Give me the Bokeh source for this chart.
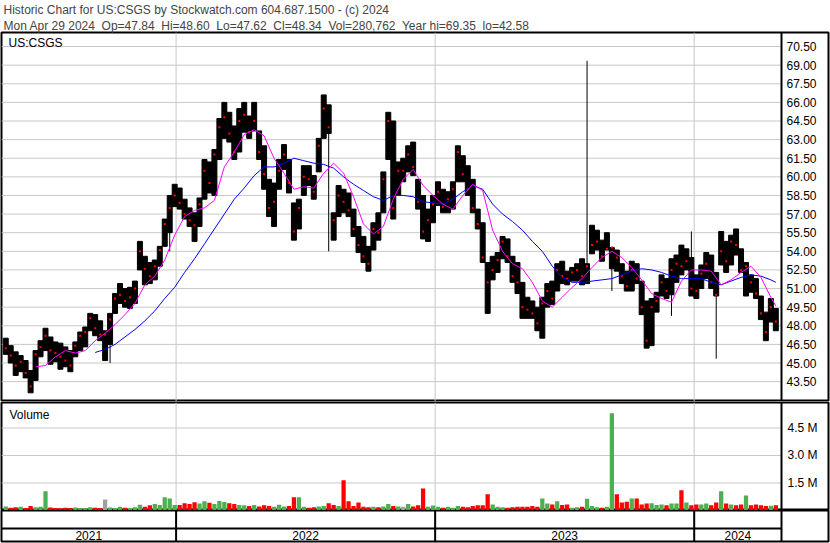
import pandas as pd
from bokeh.plotting import figure
from bokeh.models import Range1d, Span, Title, Label
from bokeh.layouts import column
from bokeh.embed import file_html
from bokeh.resources import INLINE
from bokeh.core.properties import value

# ---------------- data ----------------
header1 = "Historic Chart for US:CSGS by Stockwatch.com 604.687.1500 - (c) 2024"
header2 = ("Mon Apr 29 2024\u00a0 Op=47.84\u00a0 Hi=48.60\u00a0 Lo=47.62\u00a0 Cl=48.34\u00a0 "
           "Vol=280,762\u00a0 Year hi=69.35\u00a0 lo=42.58")
symbol = "US:CSGS"
last_week = "2024-04-25"
view_start = "2021-04-30"
view_end = "2024-05-03"
years = [2021, 2022, 2023, 2024]

highs = [47.0, 46.4, 45.9, 45.6, 45.2, 44.4, 46.0, 46.8, 47.8, 47.1,
         46.7, 46.6, 46.3, 46.0, 46.7, 47.5, 47.9, 49.0, 48.9, 48.4,
         47.6, 49.0, 50.6, 51.4, 51.0, 51.1, 51.6, 54.8, 53.6, 53.1,
         53.3, 54.4, 56.6, 58.5, 59.4, 59.1, 58.2, 57.5, 57.1, 58.3,
         61.4, 61.2, 62.2, 64.7, 66.0, 65.2, 64.1, 65.5, 66.0, 64.9,
         66.0, 63.7, 62.5, 59.8, 59.5, 61.4, 62.6, 61.4, 57.9, 58.2,
         60.9, 60.9, 60.1, 63.1, 66.6, 65.8, 57.1, 59.3, 59.0, 58.7,
         57.4, 56.0, 55.2, 54.4, 56.3, 57.1, 60.4, 65.2, 64.5, 61.2,
         61.5, 62.5, 62.8, 59.8, 58.5, 57.4, 58.5, 59.6, 59.0, 58.8,
         59.6, 62.5, 61.7, 60.9, 59.8, 57.4, 56.3, 53.1, 53.6, 53.9,
         55.2, 55.0, 53.6, 53.1, 51.5, 50.3, 50.0, 49.5, 50.3, 51.4,
         51.6, 53.0, 53.2, 52.4, 52.7, 53.0, 53.4, 53.0, 56.1, 55.7,
         54.9, 55.5, 54.3, 54.1, 53.0, 52.4, 53.2, 53.0, 51.6, 50.0,
         50.2, 50.7, 52.1, 51.8, 53.4, 53.7, 54.5, 54.2, 53.5, 52.1,
         52.9, 53.9, 53.7, 52.3, 55.6, 54.8, 55.3, 55.8, 54.2, 53.1,
         52.1, 51.8, 50.4, 49.1, 50.2, 49.4]
lows = [45.7, 45.0, 44.0, 44.3, 43.8, 42.6, 43.6, 45.5, 46.0, 44.9,
        45.1, 44.5, 44.7, 44.3, 45.5, 46.0, 46.3, 47.6, 47.2, 46.8,
        45.2, 46.5, 49.0, 49.8, 49.5, 49.4, 49.8, 52.5, 51.3, 51.4,
        51.7, 52.8, 54.4, 55.5, 57.6, 57.4, 56.6, 56.0, 54.8, 56.0,
        58.2, 58.7, 58.5, 61.4, 63.1, 62.8, 61.4, 62.0, 63.6, 63.1,
        63.7, 61.4, 59.0, 56.8, 56.0, 59.0, 60.6, 58.7, 54.9, 55.8,
        58.5, 59.3, 58.2, 60.4, 63.1, 63.5, 54.9, 56.8, 57.1, 56.8,
        55.2, 53.9, 53.1, 52.4, 54.1, 54.9, 57.1, 61.4, 56.6, 58.5,
        59.6, 60.4, 60.1, 57.4, 55.0, 54.8, 56.3, 57.7, 57.1, 57.1,
        57.4, 59.6, 59.6, 58.5, 57.1, 55.8, 53.1, 49.0, 51.7, 52.3,
        53.4, 53.1, 51.5, 50.6, 48.6, 48.6, 48.6, 47.6, 47.0, 49.5,
        49.7, 50.8, 51.4, 51.3, 51.6, 51.6, 51.3, 51.4, 53.8, 54.1,
        53.2, 54.1, 52.6, 52.4, 51.4, 50.8, 50.8, 51.4, 48.9, 46.2,
        46.4, 49.1, 50.4, 50.2, 50.5, 51.5, 52.1, 52.5, 50.4, 50.2,
        51.0, 51.8, 51.0, 50.4, 52.9, 52.3, 52.9, 53.7, 52.3, 50.4,
        50.7, 50.2, 48.5, 46.8, 48.3, 47.6]
closes = [46.2, 45.6, 44.8, 45.1, 44.2, 43.1, 45.7, 46.3, 47.2, 46.0,
          45.8, 45.5, 45.2, 44.8, 46.4, 47.2, 47.5, 48.6, 47.8, 47.3,
          47.3, 48.5, 50.2, 50.5, 50.0, 50.3, 51.0, 54.0, 52.6, 52.0,
          52.8, 54.1, 56.2, 57.5, 58.5, 57.9, 57.0, 56.5, 56.1, 57.8,
          60.5, 59.5, 61.8, 64.0, 64.8, 63.5, 62.0, 64.5, 65.0, 63.6,
          64.5, 62.0, 60.2, 57.5, 58.0, 60.5, 61.8, 59.5, 55.6, 57.5,
          60.0, 59.8, 58.8, 62.5, 65.5, 64.0, 56.5, 58.5, 58.0, 57.3,
          55.8, 54.5, 53.6, 53.0, 55.8, 55.5, 59.8, 64.5, 57.5, 60.5,
          60.5, 61.8, 60.8, 58.0, 55.6, 56.5, 57.8, 58.8, 57.6, 58.2,
          59.0, 62.0, 60.2, 59.0, 57.5, 56.2, 53.5, 51.5, 52.5, 53.3,
          54.8, 53.6, 52.0, 51.5, 49.5, 49.3, 49.0, 48.2, 49.8, 50.8,
          50.2, 52.5, 52.0, 51.8, 52.3, 52.5, 52.0, 52.8, 54.5, 54.8,
          53.6, 54.2, 54.3, 53.5, 52.0, 51.2, 52.5, 51.8, 49.5, 46.8,
          49.5, 50.0, 51.5, 50.8, 52.5, 53.0, 52.8, 53.2, 51.0, 50.8,
          52.2, 53.0, 51.5, 50.5, 54.0, 53.2, 54.8, 54.5, 52.5, 52.8,
          51.5, 50.6, 49.0, 47.5, 49.5, 48.34]
# single-day extremes (week index, price)
spike_idx = [21, 33, 65, 117, 122, 134, 138, 143]
spike_val = [45.0, 54.0, 54.0, 69.35, 50.8, 48.8, 55.6, 45.35]

volume_m = [0.22, 0.15, 0.18, 0.20, 0.14, 0.25, 0.18, 0.20, 1.05, 0.16,
            0.14, 0.12, 0.15, 0.13, 0.16, 0.12, 0.14, 0.18, 0.15, 0.13,
            0.60, 0.16, 0.14, 0.20, 0.15, 0.13, 0.18, 0.32, 0.20, 0.28,
            0.35, 0.30, 0.72, 0.66, 0.30, 0.30, 0.40, 0.35, 0.45, 0.38,
            0.50, 0.42, 0.36, 0.52, 0.46, 0.40, 0.35, 0.30, 0.28, 0.25,
            0.30, 0.22, 0.28, 0.25, 0.20, 0.32, 0.22, 0.25, 0.72, 0.72,
            0.20, 0.15, 0.18, 0.22, 0.25, 0.40, 0.30, 0.25, 1.65, 0.50,
            0.25, 0.43, 0.20, 0.18, 0.20, 0.18, 0.22, 0.35, 0.25, 0.22,
            0.20, 0.36, 0.22, 0.28, 1.20, 0.20, 0.27, 0.20, 0.15, 0.20,
            0.15, 0.24, 0.20, 0.18, 0.24, 0.28, 0.28, 0.88, 0.33, 0.20,
            0.18, 0.15, 0.18, 0.20, 0.21, 0.20, 0.24, 0.20, 0.66, 0.38,
            0.33, 0.50, 0.30, 0.33, 0.15, 0.18, 0.20, 0.64, 0.25, 0.18,
            0.15, 0.20, 5.30, 0.88, 0.43, 0.48, 0.66, 0.66, 0.33, 0.38,
            0.40, 0.30, 0.33, 0.28, 0.38, 0.38, 1.10, 0.43, 0.28, 0.33,
            0.33, 0.38, 0.28, 0.43, 1.05, 0.38, 0.33, 0.28, 0.33, 0.82,
            0.28, 0.33, 0.28, 0.24, 0.26, 0.28]

fast_idx = list(range(6, 155, 2)) + [155]
fast_ma = [44.7, 44.8, 45.5, 46.0, 45.8, 46.0, 46.8, 47.4, 48.1, 48.9,
           49.8, 51.3, 52.0, 53.3, 55.3, 56.8, 57.3, 57.5, 58.1, 60.8,
           62.0, 63.4, 63.8, 63.3, 61.5, 60.3, 59.0, 59.2, 59.1, 60.3,
           61.1, 60.3, 58.4, 56.2, 55.4, 56.0, 58.2, 59.8, 60.6, 59.3,
           58.5, 57.8, 57.4, 58.5, 59.4, 58.9, 55.7, 54.0, 53.0, 52.6,
           51.5, 50.0, 49.5, 50.3, 51.1, 51.8, 52.7, 53.5, 54.0, 53.5,
           52.7, 51.7, 50.6, 50.2, 49.9, 51.6, 52.5, 52.5, 52.4, 51.3,
           51.7, 52.3, 52.8, 51.9, 50.3, 49.6]
slow_idx = list(range(18, 155, 2)) + [155]
slow_ma = [45.85, 46.1, 46.5, 47.1, 47.7, 48.4, 49.2, 50.2, 51.1, 52.3,
           53.4, 54.6, 55.8, 57.0, 58.2, 59.1, 60.1, 60.8, 60.8, 61.1,
           61.5, 61.3, 61.1, 61.0, 60.7, 60.0, 59.4, 58.9, 58.4, 58.1,
           58.5, 58.5, 58.4, 58.0, 57.9, 57.8, 58.2, 58.8, 59.3, 59.0,
           57.8, 57.0, 56.4, 55.7, 54.8, 54.0, 52.8, 51.9, 51.5, 51.5,
           51.6, 51.7, 51.8, 52.1, 52.4, 52.6, 52.5, 52.3, 52.0, 51.8,
           51.8, 51.8, 51.5, 51.3, 51.6, 51.9, 52.1, 52.0, 51.7, 51.5]

price_ticks = [43.5, 45.0, 46.5, 48.0, 49.5, 51.0, 52.5, 54.0, 55.5, 57.0,
               58.5, 60.0, 61.5, 63.0, 64.5, 66.0, 67.5, 69.0, 70.5]
vol_ticks_m = [1.5, 3.0, 4.5]

# ---------------- helpers ----------------
FONT = value("Liberation Sans")
DAY = 86400000.0
GRID = "#c8c8c8"
GREEN = "#4caf50"
RED = "#ff0000"


def ms(ts):
    return pd.Timestamp(ts).value / 1e6


n = len(highs)
dates = pd.date_range(end=last_week, periods=n, freq="7D")
xs = [ms(d) for d in dates]
x0, x1 = ms(view_start), ms(view_end)

W = 830
DATA_W = 780
LABEL_W = 47
x_end = x1 + (x1 - x0) * LABEL_W / DATA_W
xr = Range1d(x0, x_end)
bar_w = 7.0 * DAY
vol_w = 6.0 * DAY
bounds = [ms(f"{y}-01-01") for y in years[1:]]


def make_fig(height, yr, top=0, bottom=0):
    p = figure(width=W, height=height, x_range=xr, y_range=yr,
               output_backend="svg", toolbar_location=None,
               x_axis_location=None, y_axis_location=None,
               min_border_left=1, min_border_right=2,
               min_border_top=top, min_border_bottom=bottom)
    p.grid.visible = False
    p.outline_line_color = "black"
    p.outline_line_width = 2
    p.background_fill_color = "white"
    p.border_fill_color = "white"
    return p


# ---------------- price panel ----------------
pr = Range1d(41.9, 71.63)
pp = make_fig(401, pr, top=0, bottom=0)
pp.add_layout(Title(text=header2, text_font="Liberation Sans", text_font_size="12px",
                    text_font_style="normal", align="left", offset=2, standoff=0), "above")
pp.add_layout(Title(text=header1, text_font="Liberation Sans", text_font_size="12px",
                    text_font_style="normal", align="left", offset=2, standoff=0), "above")

for b in bounds:
    pp.add_layout(Span(location=b, dimension="height", line_color=GRID, line_width=1, level="underlay"))
pp.segment(x0=[x0] * len(price_ticks), x1=[x1] * len(price_ticks), y0=price_ticks, y1=price_ticks,
           line_color=GRID, line_width=1)
pp.segment(x0=[xs[i] for i in spike_idx], x1=[xs[i] for i in spike_idx],
           y0=[closes[i] for i in spike_idx], y1=spike_val, line_color="black", line_width=1)
pp.vbar(x=xs, top=highs, bottom=lows, width=bar_w, fill_color="black", line_color="black", line_width=1)
pp.scatter(x=xs, y=closes, marker="square", size=2, fill_color=RED, line_color=None)
pp.line(x=[xs[i] for i in slow_idx], y=slow_ma, line_color="#0000ff", line_width=1)
pp.line(x=[xs[i] for i in fast_idx], y=fast_ma, line_color="#ff00ff", line_width=1)
pp.text(x=[x1] * len(price_ticks), y=price_ticks, text=[f"{t:.2f}" for t in price_ticks],
        x_offset=5, text_baseline="middle", text_align="left", text_font=FONT,
        text_font_size="12px", text_color="black")
pp.add_layout(Label(x=x0, y=pr.end, x_offset=7, y_offset=-3, text=symbol, text_baseline="top",
                    text_font="Liberation Sans", text_font_size="12px", text_color="black"))
pp.add_layout(Span(location=x1, dimension="height", line_color="black", line_width=2))

# ---------------- volume panel ----------------
vols = [v * 1e6 for v in volume_m]
colors = []
for i, c in enumerate(closes):
    if i == 0 or c > closes[i - 1]:
        colors.append(GREEN)
    elif c < closes[i - 1]:
        colors.append(RED)
    else:
        colors.append("#a0a0a0")
vr = Range1d(0, 5.89e6)
pv = make_fig(109, vr, top=1, bottom=0)
for b in bounds:
    pv.add_layout(Span(location=b, dimension="height", line_color=GRID, line_width=1, level="underlay"))
vt = [v * 1e6 for v in vol_ticks_m]
pv.segment(x0=[x0] * len(vt), x1=[x1] * len(vt), y0=vt, y1=vt, line_color=GRID, line_width=1)
pv.vbar(x=xs, top=vols, bottom=0, width=vol_w, fill_color=colors, line_color=None)
pv.text(x=[x1] * len(vt), y=vt, text=[f"{v:.1f} M" for v in vol_ticks_m],
        x_offset=6, text_baseline="middle", text_align="left", text_font=FONT,
        text_font_size="12px", text_color="black")
pv.add_layout(Label(x=x0, y=vr.end, x_offset=8, y_offset=-5, text="Volume", text_baseline="top",
                    text_font="Liberation Sans", text_font_size="12px", text_color="black"))
pv.add_layout(Span(location=x1, dimension="height", line_color="black", line_width=2))

# ---------------- year row ----------------
yr_rng = Range1d(0, 31)
py = make_fig(33, yr_rng, top=0, bottom=2)
for b in bounds:
    py.add_layout(Span(location=b, dimension="height", line_color="black", line_width=2))
py.add_layout(Span(location=x1, dimension="height", line_color="black", line_width=2))
py.segment(x0=[x0], x1=[x1], y0=[13], y1=[13], line_color="black", line_width=2)
edges = [x0] + bounds + [x1]
mids = [(edges[i] + edges[i + 1]) / 2 for i in range(len(years))]
py.text(x=mids, y=[6.5] * len(years), text=[str(y) for y in years], text_align="center",
        text_baseline="middle", text_font=FONT, text_font_size="12px", text_color="black")

layout = column(pp, pv, py)
open("out.html", "w").write(file_html(layout, INLINE))
